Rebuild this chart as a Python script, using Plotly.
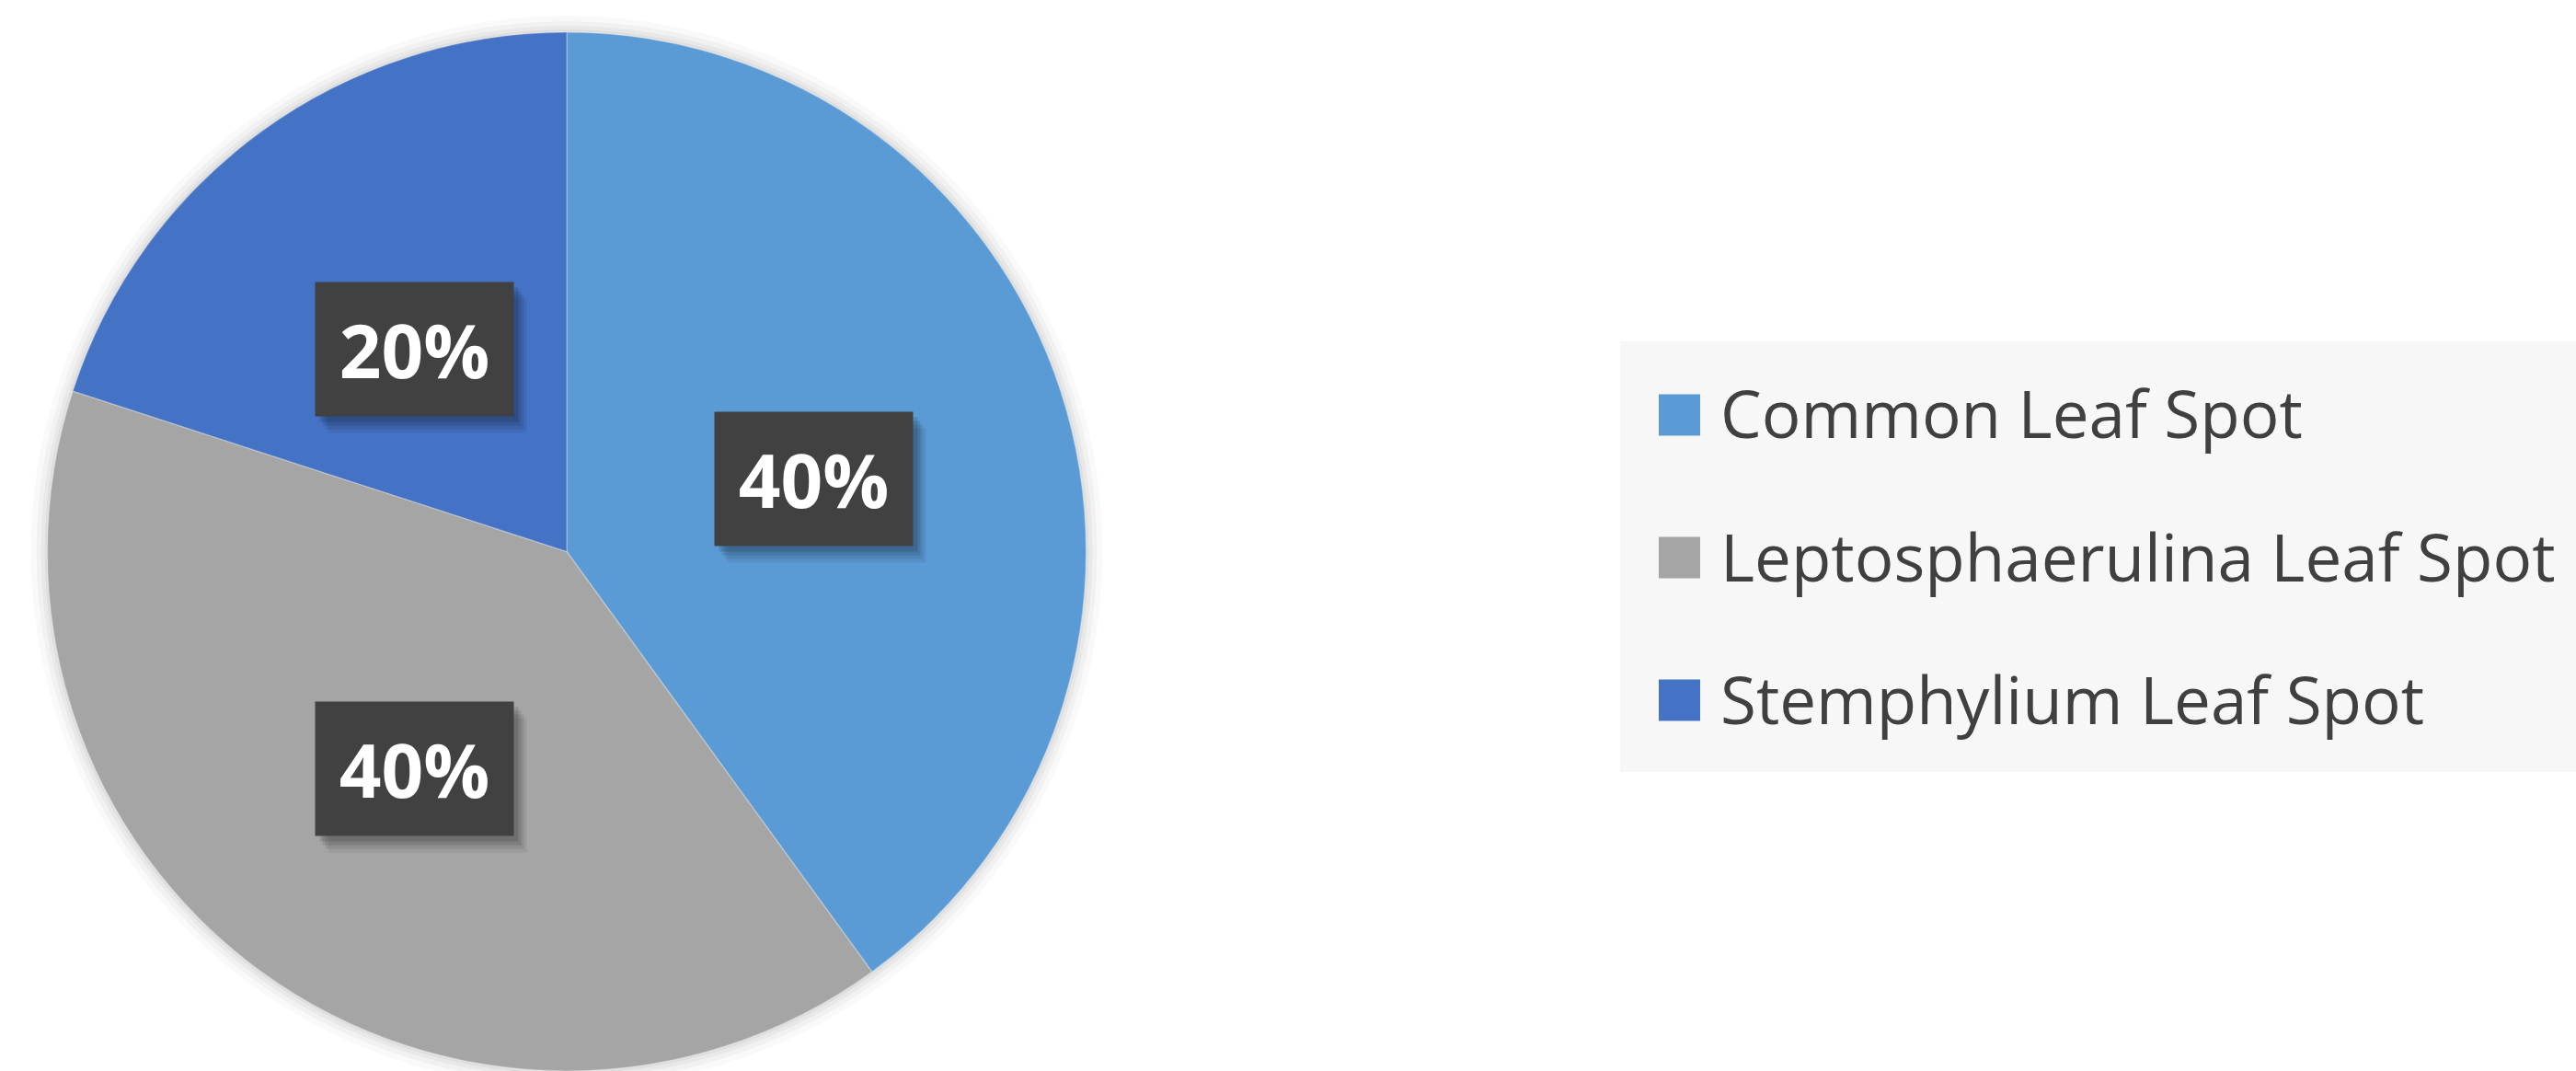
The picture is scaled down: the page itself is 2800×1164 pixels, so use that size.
import plotly.graph_objects as go
import math

categories = ["Common Leaf Spot", "Leptosphaerulina Leaf Spot", "Stemphylium Leaf Spot"]
values = [40, 40, 20]
colors = ["#5B9BD5", "#A5A5A5", "#4472C4"]

W, H = 2800, 1164
PIE_CX = 616      # px, horizontal centre of the pie
PIE_TOP = 35      # px, top edge of pie
pie_h = H - PIE_TOP
dom_x = [(PIE_CX - pie_h / 2) / W, (PIE_CX + pie_h / 2) / W]
dom_y = [0, pie_h / H]
R = pie_h / 2
cx_px, cy_px = PIE_CX, PIE_TOP + R

fig = go.Figure()
fig.add_trace(go.Pie(
    labels=categories,
    values=values,
    sort=False,
    direction="clockwise",
    rotation=0,
    marker=dict(colors=colors, line=dict(color="rgba(255,255,255,0.25)", width=1.5)),
    textinfo="none",
    hoverinfo="label+percent",
    domain=dict(x=dom_x, y=dom_y),
    showlegend=False,
))

# soft glow behind the pie
shapes = []
for k, a in [(18, 0.025), (12, 0.03), (7, 0.035), (3, 0.04)]:
    shapes.append(dict(
        type="circle", xref="paper", yref="paper", layer="below",
        x0=(cx_px - R - k) / W, x1=(cx_px + R + k) / W,
        y0=1 - (cy_px + R + k) / H, y1=1 - (cy_px - R - k) / H,
        fillcolor=f"rgba(0,0,0,{a})", line=dict(width=0),
    ))

# data labels: boxes at slice mid-angles, derived from the values
total = sum(values)
cum = 0
annotations = []
for v in values:
    ang = 2 * math.pi * (cum + v / 2) / total
    cum += v
    r = 0.5 * R
    xpx = cx_px + r * math.sin(ang)
    ypx = cy_px - r * math.cos(ang)
    xp, yp = xpx / W, 1 - ypx / H
    pct = f"{round(100 * v / total)}%"
    for (dx, dy, a) in [(14, -18, 0.06), (11, -14, 0.08), (8, -10, 0.10), (5, -6, 0.12)]:
        annotations.append(dict(
            x=xp, y=yp, xref="paper", yref="paper", text=" ", showarrow=False,
            xanchor="center", yanchor="middle",
            width=215, height=145, borderpad=0, bgcolor=f"rgba(0,0,0,{a})",
            xshift=dx, yshift=-8 + dy,
        ))
    annotations.append(dict(
        x=xp, y=yp, xref="paper", yref="paper", text=f"<b>{pct}</b>", showarrow=False,
        xanchor="center", yanchor="middle",
        width=215, height=145, borderpad=0, bgcolor="#414141",
        font=dict(family="Open Sans", size=80, color="#FFFFFF"),
        yshift=-8,
    ))

# legend panel (Excel-style, large swatches and wide row spacing)
LEG_X0, LEG_X1, LEG_Y0, LEG_Y1 = 1761, W, 371, 839
ROW_C, ROW_GAP = 606, 155
SW = 45
shapes.append(dict(
    type="rect", xref="paper", yref="paper", layer="below",
    x0=LEG_X0 / W, x1=LEG_X1 / W, y0=1 - LEG_Y1 / H, y1=1 - LEG_Y0 / H,
    fillcolor="#F7F7F7", line=dict(width=0),
))
n = len(categories)
for i, (lab, col) in enumerate(zip(categories, colors)):
    yc = ROW_C + (i - (n - 1) / 2) * ROW_GAP
    shapes.append(dict(
        type="rect", xref="paper", yref="paper", layer="above",
        x0=1803 / W, x1=(1803 + SW) / W,
        y0=1 - (yc + SW / 2) / H, y1=1 - (yc - SW / 2) / H,
        fillcolor=col, line=dict(width=0),
    ))
    annotations.append(dict(
        x=1868 / W, y=1 - (yc - 2) / H, xref="paper", yref="paper",
        text=lab, showarrow=False, xanchor="left", yanchor="middle",
        font=dict(family="Open Sans", size=71, color="#404040"),
    ))

fig.update_layout(
    width=W, height=H,
    margin=dict(l=0, r=0, t=0, b=0),
    paper_bgcolor="white",
    plot_bgcolor="white",
    annotations=annotations,
    shapes=shapes,
    showlegend=False,
)

fig.write_html("out.html")
